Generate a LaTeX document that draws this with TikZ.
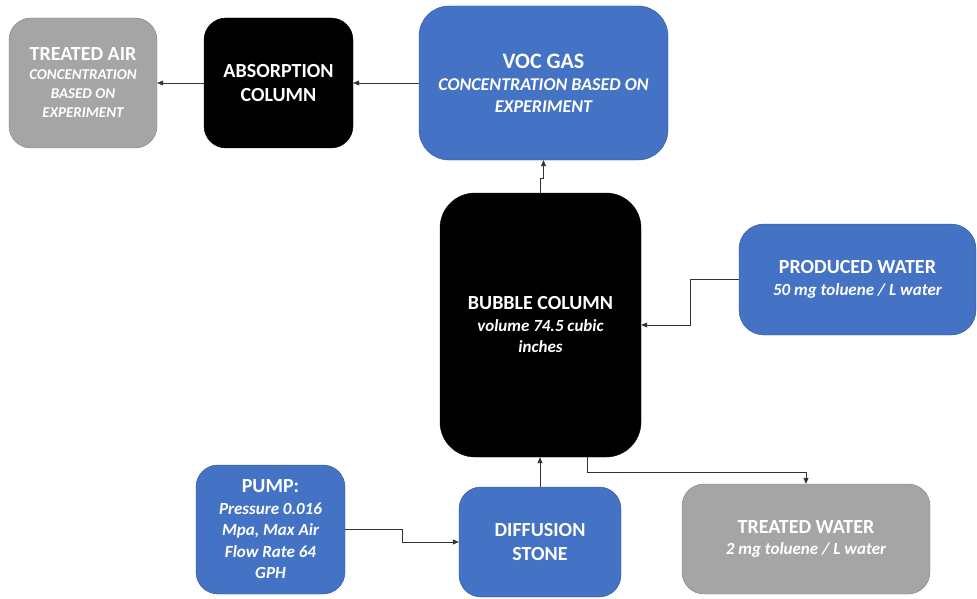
\documentclass[tikz,border=0pt]{standalone}
\usepackage{fontspec}
\setmainfont{Carlito}
\usetikzlibrary{arrows.meta}
\definecolor{flowblue}{HTML}{4472C4}
\definecolor{flowblueline}{HTML}{2F528F}
\definecolor{flowgray}{HTML}{A5A5A5}
\definecolor{flowgrayline}{HTML}{7F7F7F}
\newcommand{\boxhead}[2][20]{{\upshape\fontsize{#1}{#1}\selectfont #2}}

\begin{document}
\begin{tikzpicture}[x=1pt,y=-1pt]
  \tikzset{box/.style={draw, rounded corners=22pt, text=white, align=center, inner sep=2pt,
      font=\bfseries\itshape\fontsize{17}{21.5}\selectfont},
    bluebox/.style={box, fill=flowblue, draw=flowblueline},
    graybox/.style={box, fill=flowgray, draw=flowgrayline},
    blackbox/.style={box, fill=black, draw=black, font=\bfseries\fontsize{20}{24}\selectfont},
    flow/.style={-{Triangle[length=6pt,width=5pt]}, line width=0.6pt, draw=black!80}}
  \useasboundingbox (0,0) rectangle (977,599);

  \node[graybox, minimum width=148pt, minimum height=130pt, font=\bfseries\itshape\fontsize{15}{19}\selectfont] (tair) at (83,83)
    {\boxhead{TREATED AIR}\\CONCENTRATION\\BASED ON\\EXPERIMENT};
  \node[blackbox, minimum width=149pt, minimum height=130pt] (absorb) at (278.5,83) {ABSORPTION\\COLUMN};
  \node[bluebox, rounded corners=30pt, minimum width=249pt, minimum height=154pt, font=\bfseries\itshape\fontsize{18}{22}\selectfont] (voc) at (543.5,83)
    {\boxhead[22]{VOC GAS}\\CONCENTRATION BASED ON\\EXPERIMENT};
  \node[blackbox, rounded corners=35pt, minimum width=201pt, minimum height=264pt, font=\bfseries\itshape\fontsize{17}{21.5}\selectfont] (bubble) at (540.5,325)
    {\boxhead{BUBBLE COLUMN}\\volume 74.5 cubic\\inches};
  \node[bluebox, rounded corners=25pt, minimum width=237pt, minimum height=111pt] (prod) at (857.5,279.5)
    {\boxhead{PRODUCED WATER}\\50 mg toluene / L water};
  \node[bluebox, minimum width=149pt, minimum height=129pt] (pump) at (270.5,529.5)
    {\boxhead{PUMP:}\\Pressure 0.016\\Mpa, Max Air\\Flow Rate 64\\GPH};
  \node[bluebox, minimum width=162pt, minimum height=110pt, font=\bfseries\fontsize{20}{24}\selectfont] (diff) at (540,542) {DIFFUSION\\STONE};
  \node[graybox, minimum width=248pt, minimum height=110pt] (twater) at (806,539)
    {\boxhead{TREATED WATER}\\2 mg toluene / L water};

  \draw[flow] (absorb.west) -- (tair.east);
  \draw[flow] (voc.west) -- (absorb.east);
  \draw[flow] (bubble.north) -- ++(0,-15) -| (voc.south);
  \draw[flow] (prod.west) -- ++(-49,0) |- (bubble.east);
  \draw[flow] (pump.east) -- ++(57,0) |- (diff.west);
  \draw[flow] (diff.north) -- (diff.north |- bubble.south);
  \draw[flow] ([xshift=46.5pt]bubble.south) -- ++(0,15) -| (twater.north);
\end{tikzpicture}
\end{document}
